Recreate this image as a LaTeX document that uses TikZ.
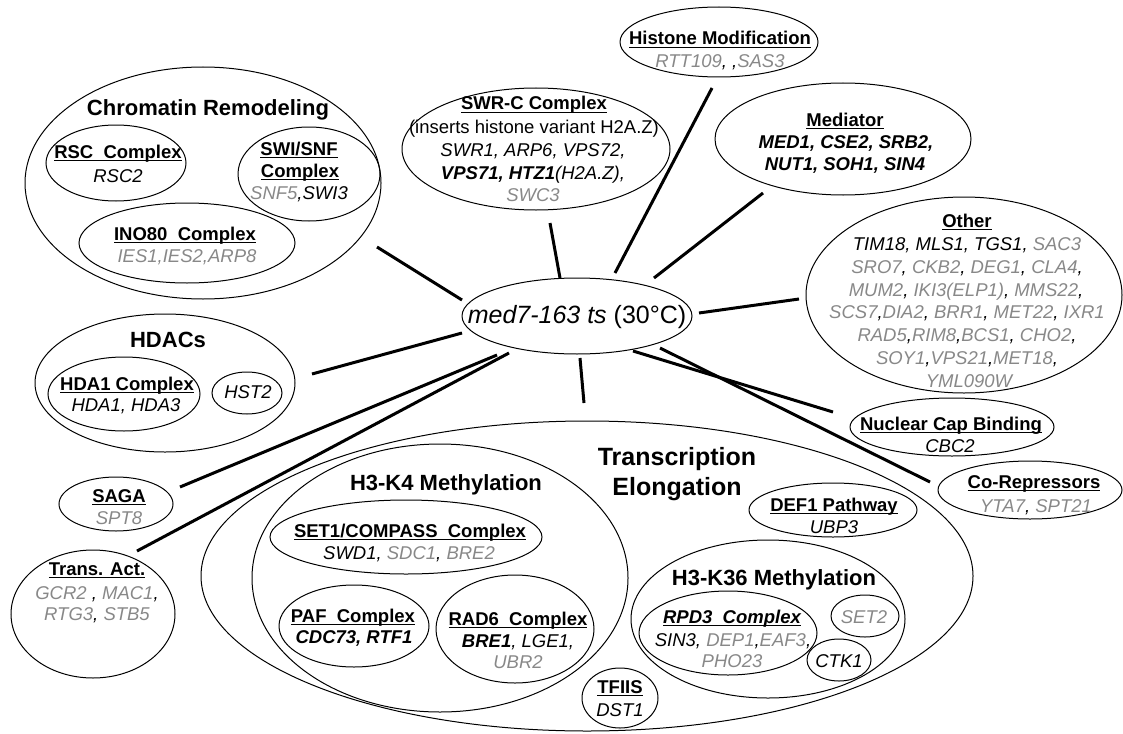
\documentclass[tikz,border=0pt]{standalone}
\usepackage{fontspec}
\setmainfont{Liberation Sans}
\usetikzlibrary{shapes.geometric}
\definecolor{gr}{RGB}{136,136,136}
\newcommand\G[1]{{\color{gr}#1}}
\newcommand\UL[1]{\setbox0\hbox{#1}\rlap{\rule[-3.4pt]{\wd0}{1.3pt}}\box0}
\newcommand\HD[1]{\UL{\bfseries #1}}
\newcommand\TT{\fontsize{22}{26}\selectfont\bfseries}
\newcommand\BT{\fontsize{25}{30}\selectfont\bfseries}
\newcommand\EL[5]{\node[ell,minimum width=#4pt,minimum height=#5pt] (#1) at (#2,#3) {};}
\newcommand\TX[4]{\node[lbl] (#1) at (#2,#3) {#4};}
\tikzset{
  ell/.style={draw, line width=1pt, ellipse, inner sep=0pt, outer sep=0pt},
  conn/.style={line width=3pt},
  lbl/.style={anchor=base, inner sep=0pt, font=\fontsize{18.5}{22}\selectfont},
}
\begin{document}
\begin{tikzpicture}[x=1pt,y=-1pt]
\useasboundingbox (0,0) rectangle (1123,733);
% ellipses
\EL{chrom}{203}{183}{356}{232}
\EL{rsc}{116}{163}{140}{76}
\EL{swisnf}{309}{174}{142}{94}
\EL{ino}{187}{243}{216}{80}
\EL{swrc}{536}{149}{268}{122}
\EL{hist}{719}{42}{198}{70}
\EL{med}{843}{139}{256}{112}
\EL{other}{964}{295}{316}{196}
\EL{ncb}{952}{427}{204}{58}
\EL{corep}{1030}{490}{184}{58}
\EL{hdacs}{165}{383}{260}{138}
\EL{hda}{124}{394}{152}{74}
\EL{hst}{247}{393}{70}{42}
\EL{saga}{116}{504}{114}{54}
\EL{tact}{93}{614}{164}{128}
\EL{te}{587}{576}{772}{310}
\EL{hkf}{440}{578}{376}{268}
\EL{set}{406}{537}{272}{74}
\EL{paf}{354}{626}{150}{82}
\EL{rad}{515}{629}{158}{108}
\EL{tfiis}{620}{698}{76}{60}
\EL{def}{833}{510}{168}{54}
\EL{hks}{768}{619}{274}{158}
\EL{rpd}{728}{633}{178}{84}
\EL{settwo}{865}{616}{68}{42}
\EL{ctk}{839}{660}{64}{42}
\EL{ctr}{577}{316}{230}{76}
% connectors
\coordinate (a1) at (377,247); \coordinate (b1) at (462,300);
\coordinate (a2) at (550,223); \coordinate (b2) at (560,278);
\coordinate (a3) at (712,88);  \coordinate (b3) at (615,273);
\coordinate (a4) at (763,193); \coordinate (b4) at (654,278);
\coordinate (a5) at (799,299); \coordinate (b5) at (699,313);
\coordinate (a6) at (312,374); \coordinate (b6) at (462,333);
\coordinate (a7) at (180,487); \coordinate (b7) at (497,355);
\coordinate (a8) at (137,551); \coordinate (b8) at (509,353);
\coordinate (a9) at (584,403); \coordinate (b9) at (580,358);
\coordinate (a10) at (833,412); \coordinate (b10) at (633,351);
\coordinate (a11) at (930,482); \coordinate (b11) at (660,348);
\foreach \i in {1,...,11} {\draw[conn] (a\i) -- (b\i);}
% texts
\node[lbl,font=\fontsize{25}{30}\selectfont] (ctrt) at (577,323) {\textit{med7-163 ts} (30°C)};
\TX{t1}{208}{115}{\TT Chromatin Remodeling}
\TX{t2}{118}{158}{\HD{RSC\ \ Complex}}
\TX{t3}{118}{182}{\itshape RSC2}
\TX{t4}{299}{155}{\HD{SWI/SNF}}
\TX{t5}{300}{177}{\HD{Complex}}
\TX{t6}{299}{199}{\itshape\G{SNF5},SWI3}
\TX{t7}{185}{240}{\HD{INO80\ \ Complex}}
\TX{t8}{187}{262}{\itshape\G{IES1,IES2,ARP8}}
\TX{t9}{534}{110}{\HD{SWR-C Complex}}
\TX{t10}{534}{133}{(inserts histone variant H2A.Z)}
\TX{t11}{533}{156}{\itshape SWR1, ARP6, VPS72,}
\TX{t12}{533}{179}{\itshape\textbf{VPS71, HTZ1}(H2A.Z),}
\TX{t13}{533}{201}{\itshape\G{SWC3}}
\TX{t14}{720}{45}{\HD{Histone Modification}}
\TX{t15}{720}{68}{\itshape\G{RTT109}, ,\G{SAS3}}
\TX{t16}{845}{126}{\HD{Mediator}}
\TX{t17}{846}{148}{\itshape\bfseries MED1, CSE2, SRB2,}
\TX{t18}{845}{170}{\itshape\bfseries NUT1, SOH1, SIN4}
\TX{t19}{967}{227}{\HD{Other}}
\TX{t20}{967}{250}{\itshape TIM18, MLS1, TGS1, \G{SAC3}}
\TX{t21}{967}{273}{\itshape\G{SRO7}, \G{CKB2}, \G{DEG1}, \G{CLA4},}
\TX{t22}{966}{296}{\itshape\G{MUM2}, \G{IKI3(ELP1)}, \G{MMS22},}
\TX{t23}{967}{318}{\itshape\G{SCS7},\G{DIA2}, \G{BRR1}, \G{MET22}, \G{IXR1}}
\TX{t24}{967}{341}{\itshape\G{RAD5},\G{RIM8},\G{BCS1}, \G{CHO2},}
\TX{t25}{967}{364}{\itshape\G{SOY1},\G{VPS21},\G{MET18},}
\TX{t26}{969}{387}{\itshape\G{YML090W}}
\TX{t27}{951}{430}{\HD{Nuclear Cap Binding}}
\TX{t28}{950}{452}{\itshape CBC2}
\TX{t29}{1034}{488}{\HD{Co-Repressors}}
\TX{t30}{1036}{512}{\itshape\G{YTA7}, \G{SPT21}}
\TX{t31}{168}{347}{\TT HDACs}
\TX{t32}{127}{390}{\HD{HDA1 Complex}}
\TX{t33}{126}{411}{\itshape HDA1, HDA3}
\TX{t34}{248}{398}{\itshape HST2}
\TX{t35}{119}{502}{\HD{SAGA}}
\TX{t36}{119}{524}{\itshape\G{SPT8}}
\TX{t37}{97}{575}{\HD{Trans. Act.}}
\TX{t38}{97}{599}{\itshape\G{GCR2} , \G{MAC1},}
\TX{t39}{97}{620}{\itshape\G{RTG3}, \G{STB5}}
\TX{t40}{677}{465}{\BT Transcription}
\TX{t41}{677}{495}{\BT Elongation}
\TX{t42}{446}{490}{\TT H3-K4 Methylation}
\TX{t43}{410}{537}{\HD{SET1/COMPASS\ \ Complex}}
\TX{t44}{409}{559}{\itshape SWD1, \G{SDC1}, \G{BRE2}}
\TX{t45}{353}{622}{\HD{PAF\ \ Complex}}
\TX{t46}{354}{643}{\itshape\bfseries CDC73, RTF1}
\TX{t47}{518}{625}{\HD{RAD6\ \ Complex}}
\TX{t48}{518}{647}{\itshape\textbf{BRE1}, LGE1,}
\TX{t49}{518}{668}{\itshape\G{UBR2}}
\TX{t50}{620}{693}{\HD{TFIIS}}
\TX{t51}{620}{716}{\itshape DST1}
\TX{t52}{834}{511}{\HD{DEF1 Pathway}}
\TX{t53}{834}{533}{\itshape UBP3}
\TX{t54}{774}{585}{\TT H3-K36 Methylation}
\TX{t55}{732}{623}{\UL{\bfseries\itshape RPD3\ \ Complex}}
\TX{t56}{733}{646}{\itshape SIN3, \G{DEP1},\G{EAF3},}
\TX{t57}{732}{667}{\itshape\G{PHO23}}
\TX{t58}{864}{623}{\itshape\G{SET2}}
\TX{t59}{839}{667}{\itshape CTK1}
\end{tikzpicture}
\end{document}
